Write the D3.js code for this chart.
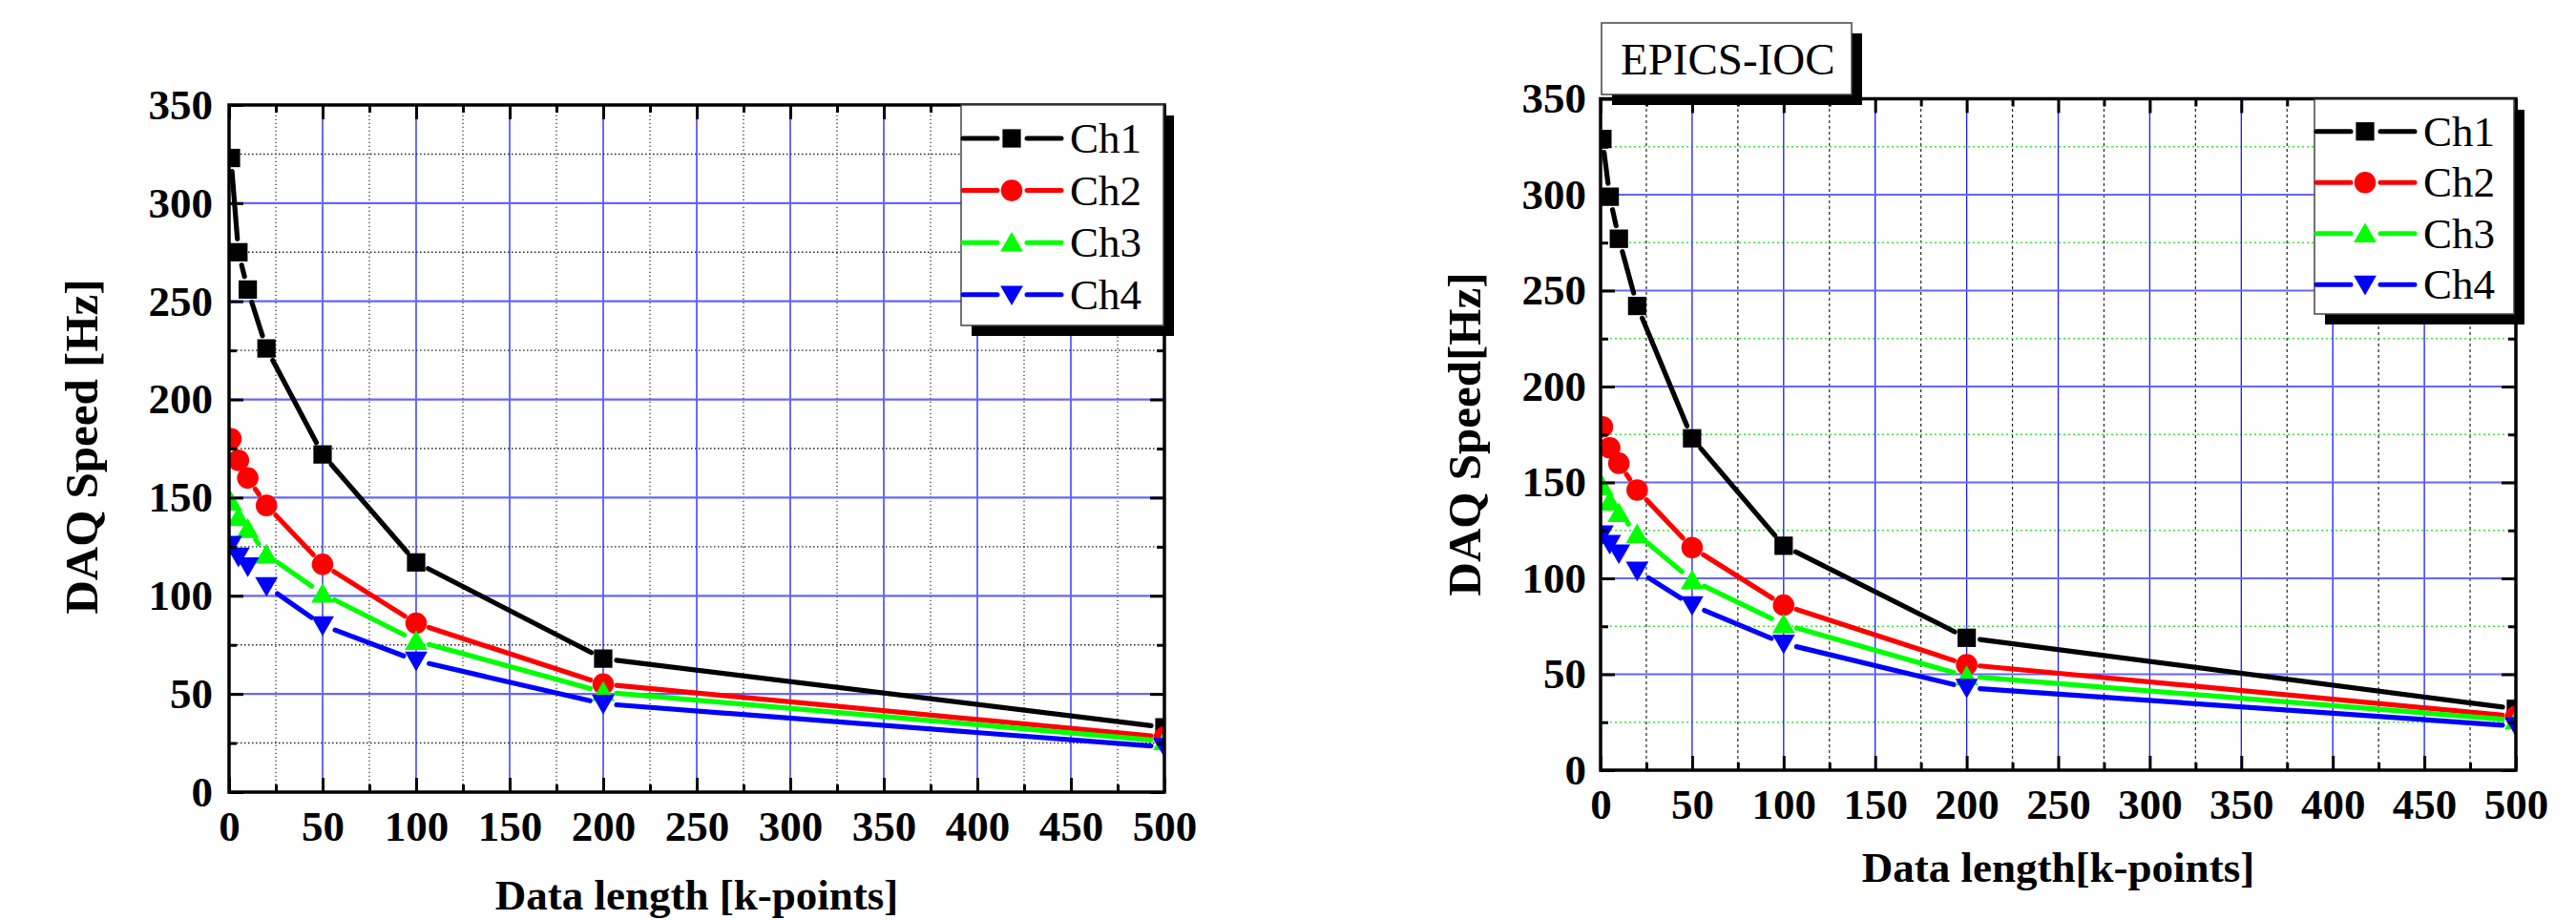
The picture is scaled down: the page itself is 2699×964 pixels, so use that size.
<!DOCTYPE html>
<html>
<head>
<meta charset="utf-8">
<script src="https://cdn.jsdelivr.net/npm/d3@7"></script>
<style>
  body { margin: 0; background: #fff; }
  svg text { font-family: "Liberation Serif", "Times New Roman", serif; }
</style>
</head>
<body>
<script>
// Canvas size
var width = 2699;
var height = 964;

// Data length in k-points (same for both panels)
var dataLength = [1, 5, 10, 20, 50, 100, 200, 500];
var channels = ["Ch1", "Ch2", "Ch3", "Ch4"];

// Left panel, DAQ speed in Hz
var leftCh1 = [323, 275, 256, 226, 172, 117, 68, 33];
var leftCh2 = [180, 169, 160, 146, 116, 86, 55, 28];
var leftCh3 = [148, 140, 134, 121, 101, 77, 51, 26];
var leftCh4 = [126, 120, 115, 105, 85, 67, 45, 23];

// Right panel (EPICS-IOC), DAQ speed in Hz
var rightCh1 = [329, 299, 277, 242, 173, 117, 69, 32];
var rightCh2 = [179, 168, 160, 146, 116, 86, 55, 28];
var rightCh3 = [148, 140, 134, 123, 99, 76, 49, 26];
var rightCh4 = [123, 118, 113, 104, 86, 66, 43, 23];

// Tick values
var xTicks = [0, 50, 100, 150, 200, 250, 300, 350, 400, 450, 500];
var yTicks = [0, 50, 100, 150, 200, 250, 300, 350];
var xMinor = [25, 75, 125, 175, 225, 275, 325, 375, 425, 475];
var yMinor = [25, 75, 125, 175, 225, 275, 325];

var colors = ["#000000", "#ff0000", "#00ff00", "#0000ff"];
var serif = "'Liberation Serif', 'Times New Roman', serif";

var svg = d3.select("body")
    .append("svg")
    .attr("width", width)
    .attr("height", height);

// marker shapes: square, circle, up triangle, down triangle
function marker(g, i, cx, cy) {
    var types = [d3.symbolSquare, d3.symbolCircle, d3.symbolTriangle, d3.symbolTriangle];
    var sizes = [370, 400, 245, 245];
    var rot = i == 3 ? 180 : 0;
    var dy = i == 2 ? 2.5 : (i == 3 ? -2.5 : 0);
    g.append("path")
        .attr("d", d3.symbol().type(types[i]).size(sizes[i])())
        .attr("transform", "translate(" + cx + "," + (cy + dy) + ") rotate(" + rot + ")")
        .attr("fill", colors[i]);
}

function shadowBox(x, y, w, h) {
    svg.append("rect").attr("x", x + 11).attr("y", y + 11)
        .attr("width", w).attr("height", h).attr("fill", "#000");
    svg.append("rect").attr("x", x).attr("y", y)
        .attr("width", w).attr("height", h)
        .attr("fill", "#fff").attr("stroke", "#444").attr("stroke-width", 1.5);
}

function drawPanel(p) {
    var x = d3.scaleLinear().domain([0, 500]).range([p.x0, p.x1]);
    var y = d3.scaleLinear().domain([0, 350]).range([p.y0, p.y1]);
    var g = svg.append("g");

    // Minor grid
    g.selectAll(".vmin").data(xMinor).enter().append("line")
        .attr("x1", d => x(d)).attr("x2", d => x(d))
        .attr("y1", p.y0).attr("y2", p.y1)
        .attr("stroke", "#222").attr("stroke-width", 1.2)
        .attr("stroke-dasharray", p.vDash);
    g.selectAll(".hmin").data(yMinor).enter().append("line")
        .attr("y1", d => y(d)).attr("y2", d => y(d))
        .attr("x1", p.x0).attr("x2", p.x1)
        .attr("stroke", p.hMinorColor).attr("stroke-width", 1.4)
        .attr("stroke-dasharray", p.hDash);

    // Major grid
    g.selectAll(".vmaj").data(xTicks.slice(1, -1)).enter().append("line")
        .attr("x1", d => x(d)).attr("x2", d => x(d))
        .attr("y1", p.y0).attr("y2", p.y1)
        .attr("stroke", "#1a1aff").attr("stroke-width", 1.3);
    g.selectAll(".hmaj").data(yTicks.slice(1, -1)).enter().append("line")
        .attr("y1", d => y(d)).attr("y2", d => y(d))
        .attr("x1", p.x0).attr("x2", p.x1)
        .attr("stroke", "#6464ff").attr("stroke-width", 2.2);

    // Clip for data
    svg.append("clipPath").attr("id", p.id + "clip")
        .append("rect").attr("x", p.x0).attr("y", p.y1)
        .attr("width", p.x1 - p.x0).attr("height", p.y0 - p.y1);
    var dg = g.append("g").attr("clip-path", "url(#" + p.id + "clip)");

    // Lines with a gap near each symbol
    var gap = 14;
    p.series.forEach(function (vals, i) {
        var pts = dataLength.map((d, j) => [x(d), y(vals[j])]);
        for (var j = 0; j < pts.length - 1; j++) {
            var a = pts[j], b = pts[j + 1];
            var dx = b[0] - a[0], dy = b[1] - a[1];
            var len = Math.sqrt(dx * dx + dy * dy);
            if (len <= 2 * gap + 1) continue;
            var ux = dx / len, uy = dy / len;
            dg.append("line")
                .attr("x1", a[0] + ux * gap).attr("y1", a[1] + uy * gap)
                .attr("x2", b[0] - ux * gap).attr("y2", b[1] - uy * gap)
                .attr("stroke", colors[i]).attr("stroke-width", 5.2)
                .attr("stroke-linecap", "round");
        }
    });
    p.series.forEach(function (vals, i) {
        dataLength.forEach(function (d, j) {
            marker(dg, i, x(d), y(vals[j]));
        });
    });

    // Axes with inward ticks
    function styleAxis(a) {
        a.attr("font-family", null);
        a.select(".domain").remove();
        a.selectAll(".tick line").attr("stroke", "#000").attr("stroke-width", 3);
        a.selectAll("text")
            .style("font-family", serif).attr("font-size", 45)
            .attr("font-weight", "bold").attr("fill", "#000");
    }
    var bottom = g.append("g").attr("transform", "translate(0," + p.y0 + ")");
    bottom.append("g").call(d3.axisBottom(x).tickValues(xTicks).tickSize(-15).tickSizeOuter(0).tickPadding(19)).call(styleAxis);
    bottom.append("g").call(d3.axisBottom(x).tickValues(xMinor).tickSize(-8).tickSizeOuter(0).tickFormat("")).call(styleAxis);
    var top = g.append("g").attr("transform", "translate(0," + p.y1 + ")");
    top.append("g").call(d3.axisTop(x).tickValues(xTicks).tickSize(-15).tickSizeOuter(0).tickFormat("")).call(styleAxis);
    top.append("g").call(d3.axisTop(x).tickValues(xMinor).tickSize(-8).tickSizeOuter(0).tickFormat("")).call(styleAxis);
    var left = g.append("g").attr("transform", "translate(" + p.x0 + ",0)");
    left.append("g").call(d3.axisLeft(y).tickValues(yTicks).tickSize(-15).tickSizeOuter(0).tickPadding(p.yPad)).call(styleAxis);
    left.append("g").call(d3.axisLeft(y).tickValues(yMinor).tickSize(-8).tickSizeOuter(0).tickFormat("")).call(styleAxis);
    var right = g.append("g").attr("transform", "translate(" + p.x1 + ",0)");
    right.append("g").call(d3.axisRight(y).tickValues(yTicks).tickSize(-15).tickSizeOuter(0).tickFormat("")).call(styleAxis);
    right.append("g").call(d3.axisRight(y).tickValues(yMinor).tickSize(-8).tickSizeOuter(0).tickFormat("")).call(styleAxis);

    // Frame
    g.append("rect").attr("x", p.x0).attr("y", p.y1)
        .attr("width", p.x1 - p.x0).attr("height", p.y0 - p.y1)
        .attr("fill", "none").attr("stroke", "#000").attr("stroke-width", 3.5);

    // Axis titles
    svg.append("text")
        .attr("transform", "translate(" + p.yTitleX + "," + p.yTitleY + ") rotate(-90)")
        .attr("text-anchor", "middle")
        .attr("font-family", serif).attr("font-size", 49).attr("font-weight", "bold")
        .text(p.yTitle);
    svg.append("text")
        .attr("x", (p.x0 + p.x1) / 2).attr("y", p.xTitleY)
        .attr("text-anchor", "middle")
        .attr("font-family", serif).attr("font-size", 45).attr("font-weight", "bold")
        .text(p.xTitle);

    // Legend
    var L = p.legend;
    shadowBox(L.x, L.y, L.w, L.h);
    channels.forEach(function (name, i) {
        var cy = L.row0 + i * L.step;
        [[L.x + 2, L.x + 38], [L.x + 69, L.x + 105]].forEach(function (s) {
            svg.append("line").attr("x1", s[0]).attr("x2", s[1])
                .attr("y1", cy).attr("y2", cy)
                .attr("stroke", colors[i]).attr("stroke-width", 5)
                .attr("stroke-linecap", "round");
        });
        marker(svg, i, L.x + 53, cy);
        svg.append("text")
            .attr("x", L.x + 114).attr("y", cy + 15)
            .attr("font-family", serif).attr("font-size", 45)
            .text(name);
    });
}

drawPanel({
    id: "left", x0: 240, x1: 1220, y0: 830, y1: 110, yPad: 17,
    series: [leftCh1, leftCh2, leftCh3, leftCh4],
    vDash: "1.3,2.7", hDash: "1.5,2.5", hMinorColor: "#222",
    yTitle: "DAQ Speed [Hz]", yTitleX: 102, yTitleY: 468,
    xTitle: "Data length [k-points]", xTitleY: 953,
    legend: { x: 1007, y: 110, w: 212, h: 231, row0: 145, step: 54.6 }
});

drawPanel({
    id: "right", x0: 1677, x1: 2636, y0: 807, y1: 103.5, yPad: 15,
    series: [rightCh1, rightCh2, rightCh3, rightCh4],
    vDash: "3,3", hDash: "2,3", hMinorColor: "#33ee33",
    yTitle: "DAQ Speed[Hz]", yTitleX: 1551, yTitleY: 455,
    xTitle: "Data length[k-points]", xTitleY: 924,
    legend: { x: 2425, y: 104, w: 209, h: 225, row0: 137.7, step: 53.5 }
});

// EPICS-IOC label box
shadowBox(1678, 24, 262, 75);
svg.append("text")
    .attr("x", 1698).attr("y", 78)
    .attr("font-family", serif).attr("font-size", 47)
    .text("EPICS-IOC");
</script>
</body>
</html>
